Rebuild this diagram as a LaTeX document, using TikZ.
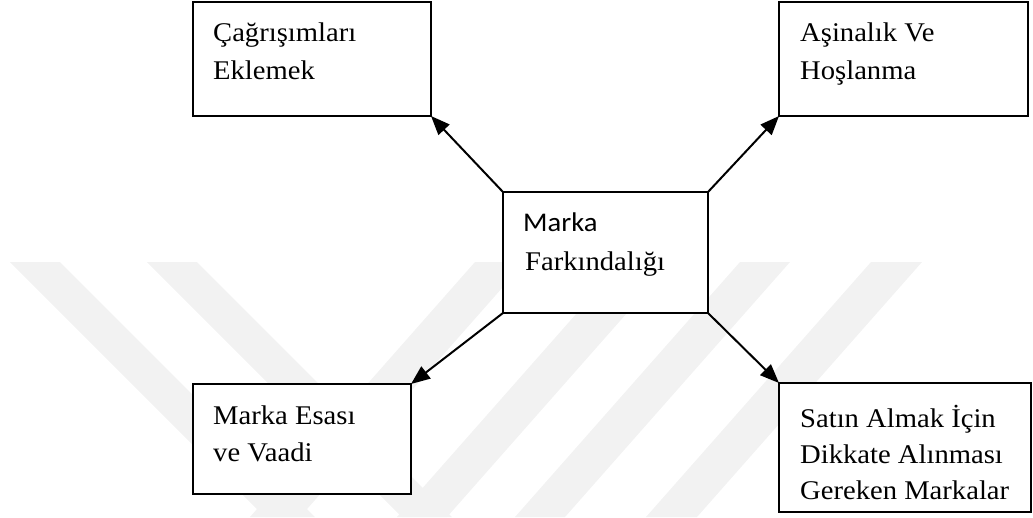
\documentclass[tikz,border=0pt]{standalone}
\usepackage{fontspec}
\setmainfont{Liberation Serif}[FakeStretch=1.06]
\newfontfamily\calfont{Carlito}[FakeStretch=1.06]
\usetikzlibrary{arrows.meta}
\tikzset{
  box/.style={draw=black, line width=2pt, fill=white, inner sep=0pt, outer sep=0pt},
  txt/.style={anchor=base west, inner sep=0pt, font=\fontsize{27pt}{36pt}\selectfont},
  arr/.style={line width=2pt, -{Triangle[length=19pt,width=15pt]}},
  wm/.style={fill=black!5, draw=none}
}
\begin{document}
\begin{tikzpicture}[x=1pt,y=-1pt]
\useasboundingbox (0,0) rectangle (1033,517);
% watermark
\fill[wm] (10,262) -- (60,262) -- (315,517) -- (265,517) -- cycle;
\fill[wm] (147,262) -- (197,262) -- (452,517) -- (402,517) -- cycle;
\fill[wm] (475,262) -- (525,262) -- (300,517) -- (250,517) -- cycle;
\fill[wm] (622,262) -- (672,262) -- (447,517) -- (397,517) -- cycle;
\fill[wm] (740,262) -- (790,262) -- (565,517) -- (515,517) -- cycle;
\fill[wm] (871,262) -- (922,262) -- (697,517) -- (646,517) -- cycle;
% boxes
\node[box, minimum width=238pt, minimum height=114pt] (tl) at (312,59) {};
\node[box, minimum width=249pt, minimum height=114pt] (tr) at (903.5,59) {};
\node[box, minimum width=205pt, minimum height=121pt] (c) at (605.5,252.5) {};
\node[box, minimum width=218pt, minimum height=110pt] (bl) at (302,439) {};
\node[box, minimum width=252pt, minimum height=129pt] (br) at (905,447.5) {};
% texts
\node[txt] (tl1) at ([shift={(20,39)}]tl.north west) {Çağrışımları};
\node[txt] (tl2) at ([shift={(20,77)}]tl.north west) {Eklemek};
\node[txt] (tr1) at ([shift={(21,39)}]tr.north west) {Aşinalık Ve};
\node[txt] (tr2) at ([shift={(21,77)}]tr.north west) {Hoşlanma};
\node[txt, font=\calfont\fontsize{27pt}{36pt}\selectfont] (c1) at ([shift={(20,39)}]c.north west) {Marka};
\node[txt] (c2) at ([shift={(22,78)}]c.north west) {Farkındalığı};
\node[txt] (bl1) at ([shift={(20,40)}]bl.north west) {Marka Esası};
\node[txt] (bl2) at ([shift={(20,77)}]bl.north west) {ve Vaadi};
\node[txt] (br1) at ([shift={(21,44)}]br.north west) {Satın Almak İçin};
\node[txt] (br2) at ([shift={(21,80)}]br.north west) {Dikkate Alınması};
\node[txt] (br3) at ([shift={(21,116)}]br.north west) {Gereken Markalar};
% arrows
\draw[arr] (c.north west) -- (tl.south east);
\draw[arr] (c.north east) -- (tr.south west);
\draw[arr] (c.south west) -- (bl.north east);
\draw[arr] (c.south east) -- (br.north west);
\end{tikzpicture}
\end{document}
